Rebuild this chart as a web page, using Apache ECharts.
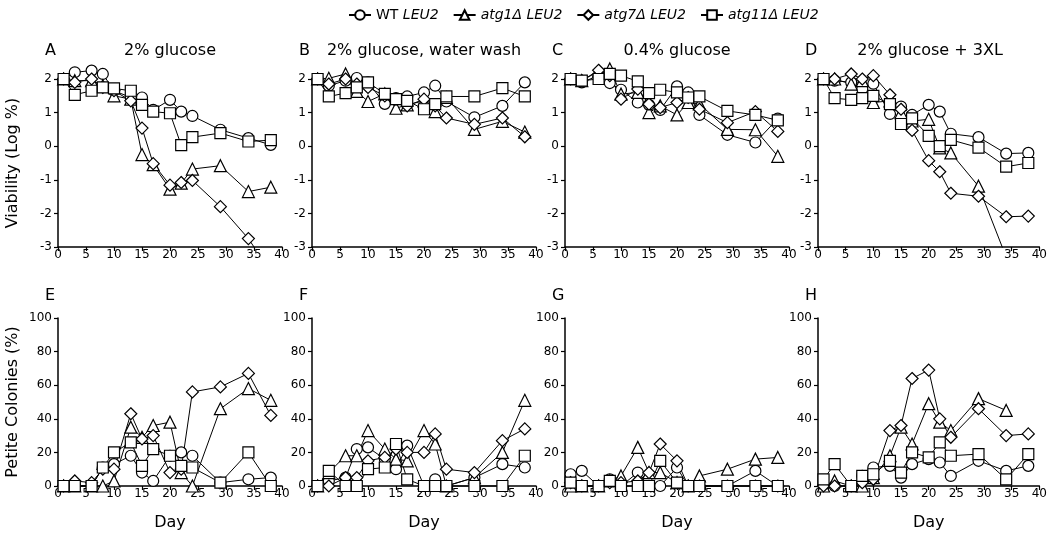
<!DOCTYPE html>
<html><head><meta charset="utf-8">
<script src="https://cdn.jsdelivr.net/npm/echarts@6/dist/echarts.min.js"></script>
<style>html,body{margin:0;padding:0;background:#fff}#c{width:1050px;height:533px}</style>
</head><body><div id="c"></div><script>
// Days of sampling
const days = [1, 3, 6, 8, 10, 13, 15, 17, 20, 22, 24, 29, 34, 38];
const xTicks = [0, 5, 10, 15, 20, 25, 30, 35, 40];

// Viability (Log %)
const A_WT    = [2.0, 2.2, 2.25, 2.15, 1.65, 1.45, 1.45, 1.08, 1.38, 1.03, 0.9, 0.49, 0.24, 0.04];
const A_ATG1  = [2.0, 1.95, 1.95, 1.8, 1.5, 1.4, -0.25, -0.55, -1.28, -1.1, -0.68, -0.58, -1.35, -1.22];
const A_ATG7  = [2.0, 1.9, 2.0, 1.75, 1.65, 1.35, 0.54, -0.52, -1.16, -1.08, -1.02, -1.8, -2.75, -3.75];
const A_ATG11 = [2.0, 1.53, 1.65, 1.75, 1.72, 1.65, 1.23, 1.03, 0.98, 0.03, 0.27, 0.39, 0.14, 0.18];

const B_WT    = [2.0, 1.8, 1.95, 2.03, 1.9, 1.26, 1.43, 1.48, 1.6, 1.8, 1.33, 0.86, 1.2, 1.9];
const B_ATG1  = [2.0, 2.02, 2.15, 1.63, 1.33, 1.56, 1.13, 1.23, 1.35, 1.03, 1.45, 0.5, 0.74, 0.42];
const B_ATG7  = [2.0, 1.85, 2.0, 1.85, 1.75, 1.5, 1.4, 1.2, 1.4, 1.2, 0.84, 0.65, 0.84, 0.28];
const B_ATG11 = [2.0, 1.48, 1.58, 1.75, 1.9, 1.56, 1.4, 1.35, 1.1, 1.25, 1.48, 1.48, 1.73, 1.48];

const C_WT    = [2.0, 1.9, 2.1, 1.88, 1.68, 1.3, 1.23, 1.08, 1.78, 1.6, 0.93, 0.34, 0.11, 0.82];
const C_ATG1  = [2.0, 1.95, 2.23, 2.3, 1.55, 1.6, 1.0, 1.2, 0.93, 1.3, 1.26, 0.5, 0.49, -0.3];
const C_ATG7  = [2.0, 1.95, 2.26, 2.1, 1.4, 1.7, 1.25, 1.15, 1.3, 1.45, 1.1, 0.7, 1.03, 0.44];
const C_ATG11 = [2.0, 1.95, 2.0, 2.15, 2.1, 1.93, 1.58, 1.68, 1.6, 1.45, 1.48, 1.05, 0.93, 0.77];

const D_WT    = [2.0, 1.95, 1.9, 1.7, 1.86, 0.96, 1.18, 0.93, 1.23, 1.03, 0.37, 0.27, -0.22, -0.2];
const D_ATG1  = [2.0, 2.0, 1.85, 1.95, 1.3, 1.35, 1.0, 0.75, 0.8, -0.05, -0.2, -1.19, -3.3, null];
const D_ATG7  = [2.0, 2.0, 2.15, 2.0, 2.1, 1.53, 1.1, 0.47, -0.43, -0.76, -1.4, -1.49, -2.1, -2.08];
const D_ATG11 = [2.0, 1.43, 1.38, 1.43, 1.5, 1.25, 0.66, 0.83, 0.31, 0.0, 0.19, -0.04, -0.61, -0.5];

// Petite colonies (%)
const E_WT    = [0, 0, 0, 11, 13, 18, 8, 3, 18, 20, 18, 2, 4, 5];
const E_ATG1  = [0, 0, 0, 0, 3, 35, 29, 36, 38, 8, 0, 46, 58, 51];
const E_ATG7  = [0, 3, 2, 10, 10, 43, 28, 30, 8, 10, 56, 59, 67, 42];
const E_ATG11 = [0, 0, 0, 11, 20, 26, 12, 22, 18, 12, 11, 2, 20, 0];

const F_WT    = [0, 3, 5, 22, 23, 16, 10, 24, 0, 4, 0, 5, 13, 11];
const F_ATG1  = [0, 8, 18, 18, 33, 22, 16, 15, 33, 25, 0, 5, 20, 51];
const F_ATG7  = [0, 0, 5, 5, 15, 17, 22, 20, 20, 31, 10, 8, 27, 34];
const F_ATG11 = [0, 9, 0, 0, 10, 11, 25, 4, 0, 0, 0, 0, 0, 18];

const G_WT    = [7, 9, 0, 4, 0, 8, 0, 0, 11, 0, 0, 0, 9, 0];
const G_ATG1  = [0, 0, 0, 3, 6, 23, 8, 8, 2, 0, 6, 10, 16, 17];
const G_ATG7  = [2, 0, 0, 2, 2, 3, 8, 25, 15, 0, 0, 0, 0, 0];
const G_ATG11 = [2, 0, 0, 3, 0, 0, 0, 15, 2, 0, 0, 0, 0, 0];

const H_WT    = [0, 0, 0, 6, 11, 12, 5, 13, 16, 14, 6, 15, 9, 12];
const H_ATG1  = [0, 3, 0, 0, 5, 18, 35, 25, 49, 38, 33, 52, 45, null];
const H_ATG7  = [0, 0, 0, 2, 4, 33, 36, 64, 69, 40, 29, 46, 30, 31];
const H_ATG11 = [4, 13, 0, 6, 7, 15, 8, 20, 17, 26, 18, 19, 4, 19];

const strainKeys = ['WT', 'atg1', 'atg7', 'atg11'];
const strainLabels = {
  WT: '{n|WT} {i|LEU2}',
  atg1: '{i|atg1\u0394 LEU2}',
  atg7: '{i|atg7\u0394 LEU2}',
  atg11: '{i|atg11\u0394 LEU2}'
};
const symbols = { WT: 'circle', atg1: 'triangle', atg7: 'diamond', atg11: 'rect' };
const symSizes = { WT: 11, atg1: 12, atg7: 12, atg11: 11 };

const panels = [
  { letter: 'A', title: '2% glucose', row: 0, data: [A_WT, A_ATG1, A_ATG7, A_ATG11], clip: [false, false, true, false] },
  { letter: 'B', title: '2% glucose, water wash', row: 0, data: [B_WT, B_ATG1, B_ATG7, B_ATG11], clip: [false, false, false, false] },
  { letter: 'C', title: '0.4% glucose', row: 0, data: [C_WT, C_ATG1, C_ATG7, C_ATG11], clip: [false, false, false, false] },
  { letter: 'D', title: '2% glucose + 3XL', row: 0, data: [D_WT, D_ATG1, D_ATG7, D_ATG11], clip: [false, true, false, false] },
  { letter: 'E', title: '', row: 1, data: [E_WT, E_ATG1, E_ATG7, E_ATG11], clip: [false, false, false, false] },
  { letter: 'F', title: '', row: 1, data: [F_WT, F_ATG1, F_ATG7, F_ATG11], clip: [false, false, false, false] },
  { letter: 'G', title: '', row: 1, data: [G_WT, G_ATG1, G_ATG7, G_ATG11], clip: [false, false, false, false] },
  { letter: 'H', title: '', row: 1, data: [H_WT, H_ATG1, H_ATG7, H_ATG11], clip: [false, false, false, false] }
];

const FONT = 'DejaVu Sans';
const lefts = [58, 312, 565, 818];
const GW = 224, GH = 168;
const tops = [79, 318];

const grids = [], xAxes = [], yAxes = [], series = [], graphics = [];
const axisLineStyle = { color: '#000', width: 1.5 };
const labelStyle = { fontFamily: FONT, fontSize: 12, color: '#000' };

panels.forEach((p, i) => {
  const col = i % 4;
  const left = lefts[col];
  const top = tops[p.row];
  grids.push({ left: left, top: top, width: GW, height: GH, containLabel: false });
  xAxes.push({
    type: 'value', gridIndex: i, min: 0, max: 40, interval: 5,
    axisLine: { show: true, onZero: false, lineStyle: axisLineStyle },
    axisTick: { show: true, length: 4, lineStyle: { color: '#000', width: 1.2 } },
    axisLabel: Object.assign({ margin: 2 }, labelStyle),
    splitLine: { show: false },
    name: p.row === 1 ? 'Day' : '',
    nameLocation: 'middle', nameGap: 29,
    nameTextStyle: { fontFamily: FONT, fontSize: 16, color: '#000' }
  });
  const isTop = p.row === 0;
  yAxes.push({
    type: 'value', gridIndex: i,
    min: isTop ? -3 : 0, max: isTop ? 2 : 100, interval: isTop ? 1 : 20,
    axisLine: { show: true, onZero: false, lineStyle: axisLineStyle },
    axisTick: { show: true, length: 4, lineStyle: { color: '#000', width: 1.2 } },
    axisLabel: Object.assign({ margin: 6 }, labelStyle),
    splitLine: { show: false },
    name: col === 0 ? (isTop ? 'Viability (Log %)' : 'Petite Colonies (%)') : '',
    nameLocation: 'middle', nameGap: 37, nameRotate: 90,
    nameTextStyle: { fontFamily: FONT, fontSize: 16, color: '#000' }
  });
  strainKeys.forEach((k, j) => {
    series.push({
      type: 'line', name: k, xAxisIndex: i, yAxisIndex: i,
      data: days.map((d, n) => [d, p.data[j][n]]),
      symbol: symbols[k], symbolSize: symSizes[k],
      showAllSymbol: true, connectNulls: false,
      clip: p.clip[j],
      lineStyle: { color: '#000', width: 1 },
      itemStyle: { color: '#fff', borderColor: '#000', borderWidth: 1.2 },
      emphasis: { disabled: true },
      animation: false
    });
  });
  const ty = isTop ? 51 : 296;
  graphics.push({ type: 'text', x: left - 13, y: ty,
    style: { text: p.letter, fontFamily: FONT, fontSize: 16, fill: '#000', textAlign: 'left', textVerticalAlign: 'middle' } });
  if (p.title) {
    graphics.push({ type: 'text', x: left + GW / 2, y: ty,
      style: { text: p.title, fontFamily: FONT, fontSize: 16, fill: '#000', textAlign: 'center', textVerticalAlign: 'middle' } });
  }
});

const option = {
  backgroundColor: '#fff',
  animation: false,
  legend: {
    left: 343, top: 3, itemWidth: 22, itemHeight: 12, itemGap: 14,
    data: strainKeys,
    formatter: name => strainLabels[name],
    textStyle: {
      color: '#000', fontFamily: FONT, fontSize: 14,
      rich: {
        n: { fontFamily: FONT, fontSize: 14, color: '#000', fontStyle: 'normal' },
        i: { fontFamily: FONT, fontSize: 14, color: '#000', fontStyle: 'italic' }
      }
    }
  },
  grid: grids, xAxis: xAxes, yAxis: yAxes, series: series,
  graphic: graphics
};
const chart = echarts.init(document.getElementById('c'), null, { renderer: 'canvas' });
chart.setOption(option);
</script></body></html>
